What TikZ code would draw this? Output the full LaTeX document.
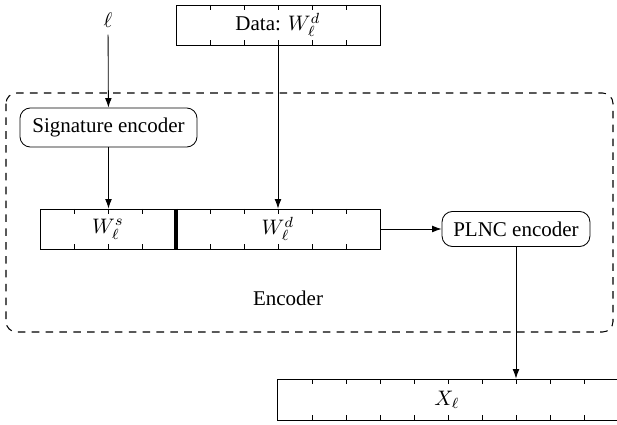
\documentclass[tikz,border=0pt]{standalone}
\usepackage{fontspec}
\setmainfont{Liberation Serif}
\usetikzlibrary{arrows.meta}
\begin{document}
\begin{tikzpicture}[x=0.476pt,y=-0.476pt,
  font=\fontsize{10}{12}\selectfont,
  rbox/.style={draw,rounded corners=5pt,inner sep=0pt},
  bar/.style={draw,inner sep=0pt,minimum height=19.04pt},
  arr/.style={-{Latex[length=4.5pt,width=3.2pt]}},
  tick/.style={line width=0.4pt}]
\useasboundingbox (0,0) rectangle (617,425);
% encoder dashed region
\draw[line width=0.5pt,dash pattern=on 3.6pt off 3pt,rounded corners=5pt] (6,93) rectangle (613,332);
\node (enc) at (288,298) {Encoder};
% top label
\node (ell) at (108,20) {$\ell$};
% data bar
\node[bar,minimum width=97.1pt] (data) at (278,25) {Data: $W_\ell^d$};
\foreach \x in {210,244,278,312,346}{
  \draw[tick] (\x,5) -- ++(0,5);
  \draw[tick] (\x,45) -- ++(0,-5);
}
% signature encoder
\node[rbox,minimum width=84.3pt,minimum height=18.6pt] (sig) at (108.5,127.5) {Signature encoder};
% main bar
\node[bar,minimum width=161.8pt] (mid) at (210,229) {};
\foreach \x in {74,108,142,210,244,278,312,346}{
  \draw[tick] (\x,209) -- ++(0,5);
  \draw[tick] (\x,249) -- ++(0,-5);
}
\draw[line width=2pt] (176,209) -- (176,249);
\node (ws) at (108,229) {$W_\ell^s$};
\node (wd) at (278,229) {$W_\ell^d$};
% PLNC encoder
\node[rbox,minimum width=70.4pt,minimum height=16.7pt] (plnc) at (516,229) {PLNC encoder};
% output bar
\node[bar,minimum width=161.8pt,minimum height=19.5pt] (xb) at (447,399.5) {};
\foreach \x in {312,346,380,414,448,482,516,550,584}{
  \draw[tick] (\x,379) -- ++(0,5);
  \draw[tick] (\x,420) -- ++(0,-5);
}
\node (xl) at (447,399.5) {$X_\ell$};
% connectors
\draw[arr] (ell) -- (sig);
\draw[arr] (sig.south) -- (sig.south |- mid.north);
\draw[arr] (data.south) -- (data.south |- mid.north);
\draw[arr] (mid.east) -- (plnc.west);
\draw[arr] (plnc.south) -- (plnc.south |- xb.north);
\end{tikzpicture}
\end{document}
